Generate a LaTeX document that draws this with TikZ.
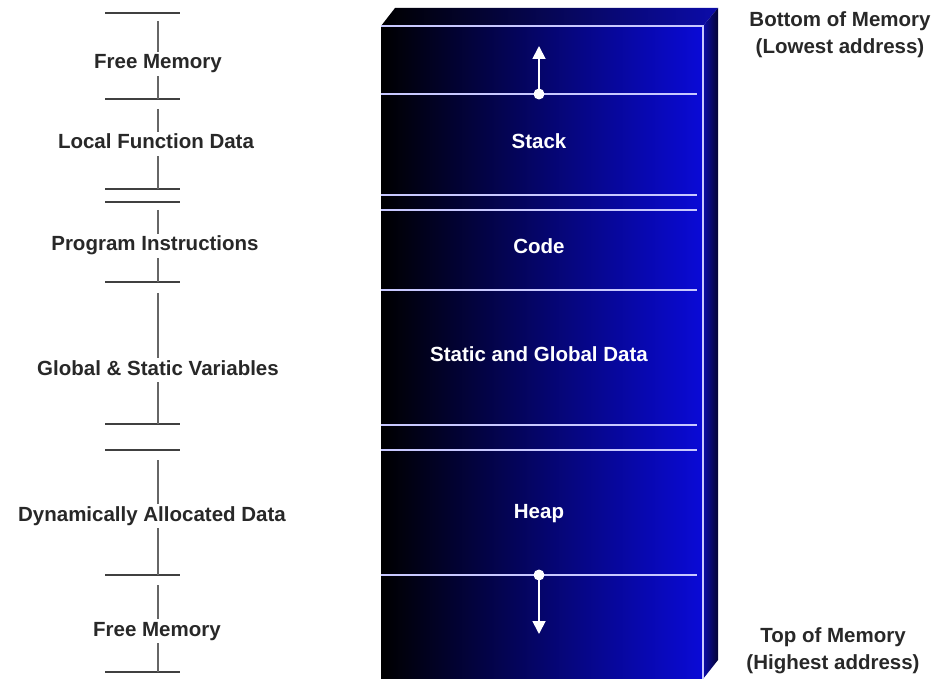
\documentclass[tikz,border=0pt]{standalone}
\usepackage{fontspec}
\setmainfont{Liberation Sans}
\usepackage{xcolor}
\usetikzlibrary{arrows.meta,positioning}

\definecolor{memblue}{RGB}{10,10,215}
\definecolor{sideblue}{RGB}{12,12,170}
\definecolor{edgeline}{RGB}{200,200,255}
\definecolor{labelgray}{RGB}{40,40,40}

\begin{document}
\begin{tikzpicture}[x=1pt, y=-1pt]
    % Define styles
    \tikzstyle{tag} = [font=\fontsize{20.5}{27}\selectfont\bfseries, text=labelgray, inner sep=2pt]
    \tikzstyle{region} = [tag, text height=15pt, text depth=5pt]
    \tikzstyle{seglabel} = [region, text=white]
    \tikzstyle{tick} = [line width=1.6pt, draw=black!75]
    \tikzstyle{bar} = [line width=1.6pt, draw=black!60]
    \tikzstyle{divider} = [line width=1.6pt, draw=edgeline]
    \tikzstyle{growarrow} = [line width=1.8pt, white, -{Triangle[width=13pt,length=13pt]}]

    \useasboundingbox (0,0) rectangle (935,679);

    % Memory block
    \shade[left color=black, right color=memblue] (381,26) rectangle (703,679);
    \shade[left color=black, right color=sideblue] (381,26) -- (395,8) -- (718,8) -- (703,26) -- cycle;
    \shade[left color=sideblue, right color=black!70!sideblue] (703,26) -- (718,8) -- (718,660) -- (703,679) -- cycle;
    \draw[divider] (381,26) -- (703,26) -- (703,679);
    \foreach \y in {94,195,210,290,425,450,575}
        \draw[divider] (381,\y) -- (697,\y);

    % Segments
    \node[seglabel] (stack) at (539,144) {Stack};
    \node[seglabel] (code) at (539,249) {Code};
    \node[seglabel] (statdata) at (539,356) {Static and Global Data};
    \node[seglabel] (heap) at (539,513) {Heap};

    % Growth arrows
    \coordinate (stacktop) at (539,94);
    \coordinate (stackgrow) at (539,46);
    \coordinate (heaptop) at (539,575);
    \coordinate (heapgrow) at (539,634);
    \draw[growarrow] (stacktop) -- (stackgrow);
    \draw[growarrow] (heaptop) -- (heapgrow);
    \fill[white] (stacktop) circle (5.5);
    \fill[white] (heaptop) circle (5.5);

    % Address labels
    \node[tag, align=center] (bottommem) at (840,35) {Bottom of Memory\\(Lowest address)};
    \node[tag, align=center] (topmem) at (833,651) {Top of Memory\\(Highest address)};

    % Region labels
    \node[region] (freetop) at (158,64) {Free Memory};
    \node[region] (localfn) at (156,144) {Local Function Data};
    \node[region] (proginst) at (155,246) {Program Instructions};
    \node[region] (globvars) at (158,370) {Global \& Static Variables};
    \node[region] (dynalloc) at (152,516) {Dynamically Allocated Data};
    \node[region] (freebot) at (157,631) {Free Memory};

    % Ticks
    \foreach \y in {13,99,189,202,282,424,450,575,672}
        \draw[tick] (105,\y) -- (180,\y);
    \coordinate (t1) at (158,13);
    \coordinate (t2) at (158,99);
    \coordinate (t3) at (158,189);
    \coordinate (t4) at (158,202);
    \coordinate (t5) at (158,282);
    \coordinate (t6) at (158,424);
    \coordinate (t7) at (158,450);
    \coordinate (t8) at (158,575);
    \coordinate (t9) at (158,672);

    % Brackets
    \draw[bar, shorten <=8pt] (t1) -- (freetop.north -| t1);
    \draw[bar] (freetop.south -| t2) -- (t2);
    \draw[bar, shorten <=10pt] (t2) -- (localfn.north -| t2);
    \draw[bar] (localfn.south -| t3) -- (t3);
    \draw[bar, shorten <=8pt] (t4) -- (proginst.north -| t4);
    \draw[bar] (proginst.south -| t5) -- (t5);
    \draw[bar, shorten <=11pt] (t5) -- (globvars.north -| t5);
    \draw[bar] (globvars.south -| t6) -- (t6);
    \draw[bar, shorten <=10pt] (t7) -- (dynalloc.north -| t7);
    \draw[bar] (dynalloc.south -| t8) -- (t8);
    \draw[bar, shorten <=10pt] (t8) -- (freebot.north -| t8);
    \draw[bar] (freebot.south -| t9) -- (t9);
\end{tikzpicture}
\end{document}
